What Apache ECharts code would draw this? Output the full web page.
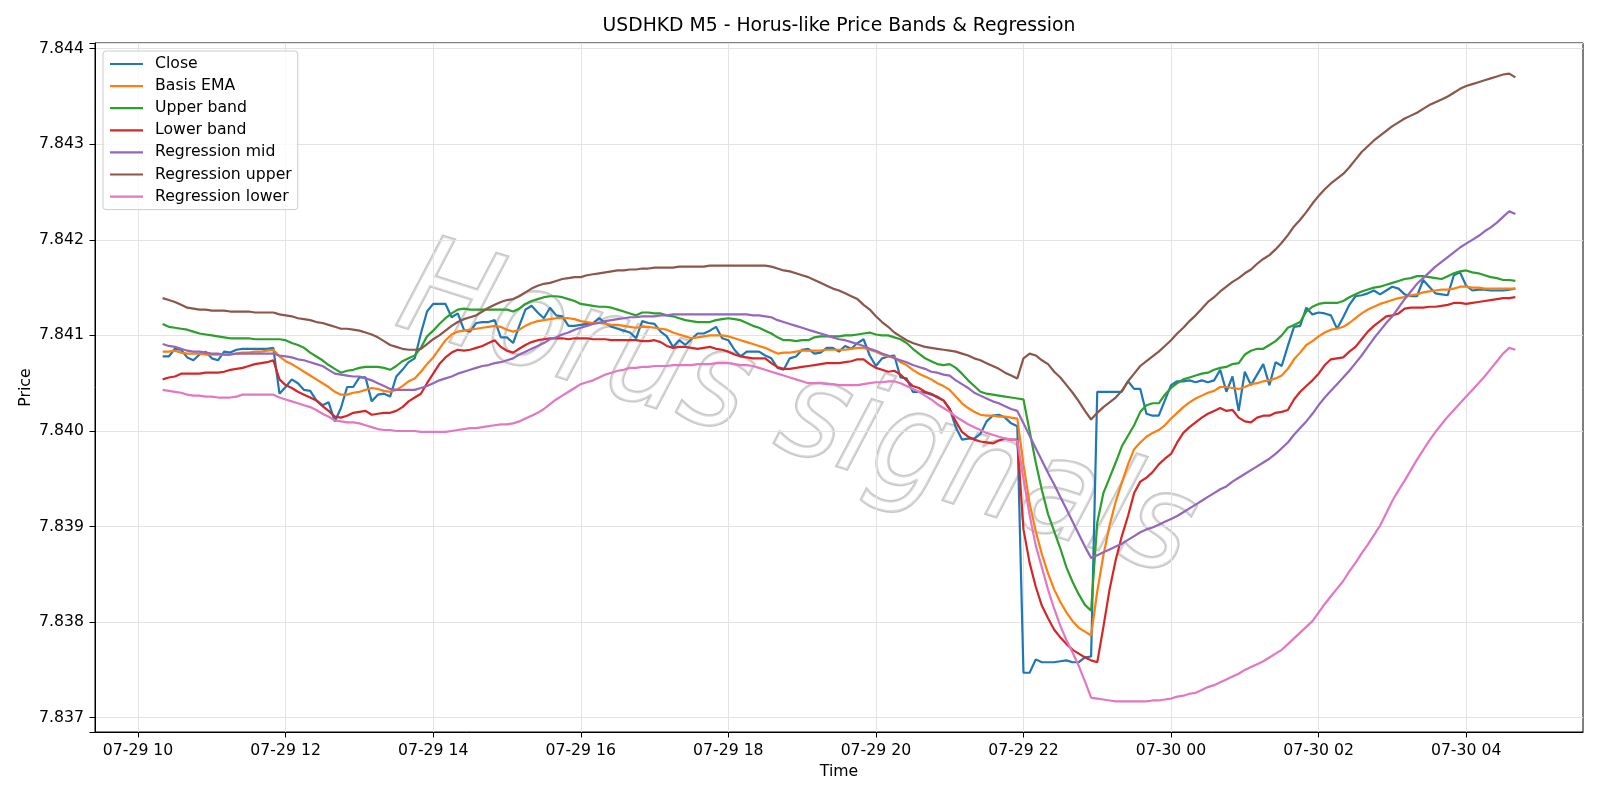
<!DOCTYPE html>
<html><head><meta charset="utf-8">
<script src="https://cdn.jsdelivr.net/npm/echarts@6/dist/echarts.min.js"></script>
<style>html,body{margin:0;padding:0;background:#fff}#c{width:1600px;height:800px}</style>
</head><body><div id="c"></div>
<script>
// ---- data (USDHKD M5, 07-29 10:20 .. 07-30 04:40, one value per 5-minute bar) ----
const xTickLabels = ['07-29 10','07-29 12','07-29 14','07-29 16','07-29 18','07-29 20','07-29 22','07-30 00','07-30 02','07-30 04'];
const yTickLabels = ['7.837','7.838','7.839','7.840','7.841','7.842','7.843','7.844'];

const close = [
7.84078,7.84078,7.84086,7.84085,7.84077,7.84074,7.8408,7.84083,7.84076,7.84074,
7.84083,7.84082,7.84085,7.84086,7.84086,7.84086,7.84086,7.84086,7.84087,7.84039,
7.84046,7.84054,7.8405,7.84043,7.84042,7.84032,7.84027,7.8403,7.8401,7.84024,
7.84046,7.84046,7.84056,7.84056,7.84031,7.84038,7.84039,7.84036,7.84057,7.84064,
7.84072,7.84076,7.84102,7.84125,7.84133,7.84133,7.84133,7.84119,7.84123,7.84106,
7.84104,7.84113,7.84114,7.84114,7.84116,7.84098,7.84098,7.84092,7.8411,7.84127,
7.84131,7.84124,7.84118,7.84129,7.84121,7.8412,7.8411,7.8411,7.84111,7.84112,
7.84113,7.84118,7.84113,7.84109,7.84107,7.84105,7.84103,7.84097,7.84115,7.84113,
7.84112,7.84104,7.84099,7.84088,7.84095,7.8409,7.84096,7.84102,7.84102,7.84105,
7.84109,7.84097,7.84095,7.84085,7.84078,7.84083,7.84083,7.84083,7.84079,7.84076,
7.84066,7.84064,7.84076,7.84078,7.84085,7.84086,7.84081,7.84082,7.84087,7.84087,
7.84083,7.84089,7.84086,7.84092,7.84096,7.84079,7.84068,7.84076,7.84078,7.84079,
7.84056,7.84055,7.84041,7.84041,7.8404,7.84038,7.84036,7.84032,7.84023,7.84004,
7.83991,7.83992,7.83992,7.83997,7.8401,7.84016,7.84017,7.84014,7.84008,7.84005,
7.83747,7.83747,7.83761,7.83758,7.83758,7.83758,7.83759,7.8376,7.83758,7.83758,
7.83763,7.83764,7.84041,7.84041,7.84041,7.84041,7.84041,7.84052,7.84044,7.84044,
7.84018,7.84016,7.84016,7.84032,7.84048,7.84052,7.84052,7.84053,7.84051,7.84053,
7.84051,7.84053,7.84064,7.84041,7.84057,7.84021,7.84062,7.84048,7.84059,7.8407,
7.84048,7.84072,7.84068,7.84089,7.84109,7.8411,7.84129,7.84122,7.84124,7.84123,
7.84121,7.84107,7.84119,7.84132,7.84141,7.84142,7.84144,7.84147,7.84143,7.84147,
7.84151,7.84149,7.84143,7.84141,7.84141,7.84158,7.84151,7.84144,7.84143,7.84142,
7.84163,7.84166,7.84152,7.84147,7.84148,7.84148,7.84147,7.84147,7.84147,7.84148,
7.84149];

const basisEma = [
7.84083,7.84083,7.84084,7.84082,7.84081,7.84081,7.84081,7.8408,7.8408,7.8408,
7.8408,7.8408,7.84081,7.84082,7.84082,7.84083,7.84083,7.84084,7.84085,7.84078,
7.84073,7.8407,7.84066,7.84062,7.84058,7.84054,7.8405,7.84046,7.84041,7.84038,
7.84038,7.8404,7.84041,7.84043,7.84045,7.84044,7.84042,7.84041,7.84043,7.84047,
7.84052,7.84055,7.84062,7.8407,7.84077,7.84086,7.84095,7.84101,7.84104,7.84105,
7.84106,7.84107,7.84108,7.84109,7.8411,7.84109,7.84106,7.84104,7.84106,7.8411,
7.84113,7.84115,7.84116,7.84117,7.84118,7.84118,7.84118,7.84117,7.84115,7.84114,
7.84113,7.84113,7.84112,7.84111,7.84111,7.8411,7.84109,7.84108,7.84109,7.84109,
7.84108,7.84107,7.84106,7.84103,7.84101,7.84099,7.84097,7.84098,7.84099,7.841,
7.841,7.841,7.84099,7.84097,7.84095,7.84093,7.84091,7.84089,7.84087,7.84084,
7.84081,7.84082,7.84082,7.84083,7.84084,7.84084,7.84084,7.84084,7.84085,7.84085,
7.84085,7.84085,7.84086,7.84087,7.84087,7.84085,7.84083,7.8408,7.84078,7.84077,
7.84072,7.84069,7.84064,7.8406,7.84057,7.84054,7.8405,7.84047,7.84043,7.84036,
7.84029,7.84024,7.8402,7.84017,7.84016,7.84016,7.84015,7.84015,7.84014,7.84013,
7.83965,7.83924,7.83895,7.83871,7.83851,7.83834,7.83821,7.8381,7.83801,7.83794,
7.8379,7.83786,7.83832,7.8387,7.83901,7.83926,7.83946,7.83965,7.83981,7.83988,
7.83994,7.83998,7.84001,7.84006,7.84013,7.84019,7.84025,7.8403,7.84034,7.84037,
7.8404,7.84042,7.84046,7.84046,7.84045,7.84044,7.84046,7.84049,7.8405,7.84052,
7.84053,7.84055,7.84058,7.84065,7.84075,7.84082,7.8409,7.84094,7.84099,7.84103,
7.84106,7.84107,7.84109,7.84113,7.84118,7.84123,7.84127,7.8413,7.84133,7.84135,
7.84137,7.84139,7.8414,7.84142,7.84143,7.84145,7.84146,7.84147,7.84148,7.84148,
7.84149,7.84151,7.84151,7.8415,7.8415,7.84149,7.84149,7.84149,7.84149,7.84149,
7.84149];

const upperBand = [
7.84112,7.84109,7.84108,7.84107,7.84106,7.84104,7.84102,7.84101,7.841,7.84099,
7.84098,7.84097,7.84097,7.84097,7.84097,7.84096,7.84096,7.84096,7.84096,7.84096,
7.84095,7.84092,7.8409,7.84087,7.84082,7.84078,7.84074,7.84069,7.84065,7.84061,
7.84063,7.84064,7.84066,7.84067,7.84067,7.84067,7.84066,7.84064,7.84068,7.84073,
7.84076,7.84079,7.84087,7.84099,7.84105,7.84112,7.84118,7.84123,7.84127,7.84128,
7.84127,7.84127,7.84127,7.84127,7.84127,7.84127,7.84127,7.84125,7.84128,7.84133,
7.84136,7.84138,7.8414,7.84141,7.84141,7.8414,7.84138,7.84136,7.84133,7.84132,
7.84131,7.8413,7.8413,7.84129,7.84127,7.84125,7.84123,7.84121,7.84124,7.84124,
7.84123,7.84123,7.84121,7.8412,7.84118,7.84116,7.84115,7.84114,7.84114,7.84114,
7.84116,7.84117,7.84118,7.84117,7.84116,7.84113,7.8411,7.84108,7.84105,7.84102,
7.84098,7.84095,7.84095,7.84094,7.84095,7.84095,7.84098,7.84099,7.84099,7.84099,
7.84099,7.841,7.841,7.84101,7.84102,7.84103,7.84101,7.841,7.841,7.84098,
7.84096,7.84092,7.84086,7.84081,7.84076,7.84073,7.8407,7.84069,7.8407,7.84066,
7.8406,7.84053,7.84047,7.84041,7.84039,7.84038,7.84037,7.84036,7.84035,7.84034,
7.84033,7.84,7.83967,7.83938,7.83913,7.83895,7.83877,7.83857,7.83842,7.83829,
7.83818,7.83812,7.83904,7.83935,7.83951,7.83967,7.83984,7.83995,7.84006,7.8402,
7.84027,7.84029,7.84029,7.84038,7.84045,7.8405,7.84054,7.84056,7.84058,7.8406,
7.84061,7.84064,7.84066,7.84067,7.8407,7.84071,7.8408,7.84084,7.84086,7.84086,
7.8409,7.84094,7.841,7.84108,7.84111,7.84114,7.84125,7.8413,7.84133,7.84134,
7.84134,7.84134,7.84136,7.8414,7.84143,7.84146,7.84148,7.8415,7.84151,7.84153,
7.84155,7.84157,7.84159,7.8416,7.84162,7.84162,7.84161,7.8416,7.84159,7.84162,
7.84165,7.84167,7.84168,7.84166,7.84165,7.84163,7.84161,7.8416,7.84158,7.84158,
7.84157];

const lowerBand = [
7.84054,7.84056,7.84057,7.8406,7.8406,7.8406,7.8406,7.84061,7.84061,7.84061,
7.84062,7.84064,7.84065,7.84066,7.84068,7.8407,7.84071,7.84072,7.84074,7.84054,
7.84048,7.84045,7.84041,7.84038,7.84035,7.84032,7.84026,7.84021,7.84015,7.84014,
7.84016,7.84019,7.8402,7.84021,7.84017,7.84018,7.84019,7.84019,7.84021,7.84025,
7.84031,7.84035,7.84039,7.8405,7.8406,7.8407,7.84077,7.84082,7.84085,7.84084,
7.84085,7.84087,7.84089,7.84092,7.84095,7.84088,7.84084,7.84082,7.84086,7.8409,
7.84093,7.84095,7.84096,7.84097,7.84097,7.84097,7.84096,7.84097,7.84097,7.84097,
7.84096,7.84096,7.84096,7.84095,7.84095,7.84095,7.84095,7.84095,7.84094,7.84094,
7.84095,7.84093,7.84089,7.84087,7.84088,7.84088,7.84087,7.84086,7.84087,7.84088,
7.84086,7.84085,7.84083,7.8408,7.84078,7.84077,7.84076,7.84076,7.84076,7.84071,
7.84067,7.84065,7.84065,7.84066,7.84067,7.84068,7.84069,7.8407,7.84071,7.84071,
7.84071,7.84072,7.84073,7.84075,7.84075,7.8407,7.84066,7.84064,7.84062,7.84063,
7.84059,7.84053,7.84047,7.84045,7.84041,7.84039,7.84035,7.84032,7.84023,7.8401,
7.83999,7.83994,7.83991,7.83989,7.83988,7.83987,7.8399,7.83992,7.83991,7.83991,
7.83897,7.83862,7.83837,7.83817,7.83804,7.83792,7.83784,7.83777,7.83771,7.83767,
7.83763,7.8376,7.83758,7.83795,7.83834,7.83865,7.8389,7.83911,7.83935,7.83947,
7.83951,7.83957,7.83965,7.83971,7.83976,7.83988,7.83998,7.84004,7.84009,7.84014,
7.84018,7.84021,7.84024,7.84021,7.84022,7.84014,7.8401,7.84009,7.84014,7.84016,
7.84016,7.84019,7.8402,7.84022,7.84033,7.84041,7.84047,7.84053,7.8406,7.84069,
7.84075,7.84076,7.84077,7.84083,7.84088,7.84096,7.84104,7.8411,7.84115,7.8412,
7.84121,7.84123,7.84128,7.84129,7.84129,7.84129,7.8413,7.8413,7.84131,7.84132,
7.84134,7.84134,7.84133,7.84134,7.84135,7.84136,7.84137,7.84138,7.84139,7.84139,
7.8414];

const regMid = [
7.84091,7.84089,7.84088,7.84086,7.84084,7.84083,7.84083,7.84082,7.84081,7.84081,
7.8408,7.8408,7.84081,7.84081,7.84081,7.84081,7.84081,7.84081,7.84081,7.84079,
7.84078,7.84077,7.84075,7.84074,7.84072,7.8407,7.84068,7.84064,7.8406,7.84059,
7.84058,7.84057,7.84057,7.84055,7.84053,7.8405,7.84047,7.84044,7.84043,7.84043,
7.84043,7.84043,7.84045,7.84047,7.8405,7.84053,7.84055,7.84057,7.8406,7.84062,
7.84064,7.84066,7.84068,7.84069,7.84071,7.84072,7.84074,7.84076,7.8408,7.84083,
7.84086,7.84089,7.84092,7.84096,7.84098,7.84101,7.84103,7.84106,7.84108,7.8411,
7.84112,7.84113,7.84115,7.84116,7.84117,7.84118,7.84119,7.84119,7.8412,7.8412,
7.8412,7.84121,7.84121,7.84122,7.84122,7.84122,7.84122,7.84122,7.84122,7.84122,
7.84122,7.84122,7.84122,7.84122,7.84122,7.84122,7.84121,7.84121,7.8412,7.84119,
7.84116,7.84114,7.84112,7.8411,7.84108,7.84106,7.84104,7.84102,7.841,7.84098,
7.84096,7.84095,7.84093,7.84091,7.84089,7.84086,7.84084,7.84081,7.84079,7.84076,
7.84074,7.84072,7.84069,7.84067,7.84065,7.84062,7.84061,7.84059,7.84058,7.84053,
7.84049,7.84045,7.8404,7.84037,7.84034,7.84031,7.84029,7.84026,7.84023,7.84021,
7.84008,7.83995,7.83982,7.83969,7.83956,7.83944,7.83931,7.83918,7.83905,7.83892,
7.83879,7.83867,7.8387,7.83873,7.83876,7.83879,7.83882,7.83886,7.8389,7.83894,
7.83897,7.83899,7.83902,7.83905,7.83908,7.83911,7.83915,7.83919,7.83923,7.83927,
7.83931,7.83935,7.83939,7.83942,7.83947,7.83951,7.83955,7.83959,7.83963,7.83967,
7.83971,7.83976,7.83982,7.83988,7.83996,7.84003,7.8401,7.84018,7.84027,7.84035,
7.84042,7.84049,7.84056,7.84063,7.84071,7.84079,7.84088,7.84097,7.84105,7.84113,
7.8412,7.84129,7.84138,7.84146,7.84154,7.8416,7.84166,7.84172,7.84177,7.84182,
7.84187,7.84192,7.84196,7.842,7.84204,7.84209,7.84213,7.84218,7.84224,7.8423,
7.84227];

const regUpper = [
7.84139,7.84137,7.84135,7.84132,7.84129,7.84128,7.84127,7.84127,7.84126,7.84126,
7.84126,7.84125,7.84125,7.84125,7.84125,7.84124,7.84124,7.84124,7.84124,7.84122,
7.84121,7.8412,7.84118,7.84117,7.84116,7.84114,7.84113,7.84111,7.84109,7.84107,
7.84107,7.84106,7.84105,7.84103,7.84101,7.84098,7.84094,7.8409,7.84088,7.84086,
7.84085,7.84085,7.84086,7.84091,7.84096,7.841,7.84105,7.8411,7.84114,7.84117,
7.84119,7.84121,7.84125,7.84129,7.84132,7.84135,7.84137,7.84138,7.84141,7.84145,
7.84149,7.84152,7.84154,7.84155,7.84157,7.84159,7.8416,7.84161,7.84161,7.84163,
7.84164,7.84165,7.84166,7.84167,7.84168,7.84168,7.84169,7.84169,7.8417,7.8417,
7.84171,7.84171,7.84171,7.84171,7.84172,7.84172,7.84172,7.84172,7.84172,7.84173,
7.84173,7.84173,7.84173,7.84173,7.84173,7.84173,7.84173,7.84173,7.84173,7.84172,
7.8417,7.84168,7.84167,7.84165,7.84163,7.84161,7.84158,7.84155,7.84152,7.84149,
7.84147,7.84144,7.84141,7.84138,7.84132,7.84127,7.8412,7.84114,7.84109,7.84103,
7.84099,7.84095,7.84092,7.8409,7.84088,7.84087,7.84086,7.84085,7.84084,7.84083,
7.84081,7.84079,7.84076,7.84074,7.84071,7.84068,7.84065,7.84061,7.84058,7.84055,
7.84076,7.84081,7.84079,7.84074,7.8407,7.84062,7.84056,7.84048,7.8404,7.84031,
7.84021,7.84012,7.84019,7.84025,7.8403,7.84035,7.84042,7.84052,7.8406,7.84068,
7.84073,7.84078,7.84083,7.84089,7.84095,7.84102,7.84108,7.84115,7.84121,7.84128,
7.84135,7.8414,7.84146,7.84151,7.84156,7.8416,7.84165,7.84169,7.84175,7.8418,
7.84184,7.8419,7.84197,7.84205,7.84214,7.84221,7.84229,7.84238,7.84246,7.84253,
7.84259,7.84264,7.84269,7.84276,7.84284,7.84292,7.84298,7.84304,7.84309,7.84314,
7.84319,7.84323,7.84327,7.8433,7.84333,7.84337,7.84341,7.84344,7.84347,7.8435,
7.84354,7.84358,7.84361,7.84363,7.84365,7.84367,7.84369,7.84371,7.84373,7.84374,
7.8437];

const regLower = [
7.84043,7.84042,7.84041,7.8404,7.84038,7.84037,7.84037,7.84036,7.84036,7.84035,
7.84035,7.84035,7.84036,7.84038,7.84038,7.84038,7.84038,7.84038,7.84038,7.84035,
7.84033,7.84031,7.84029,7.84027,7.84025,7.84022,7.84018,7.84015,7.84011,7.8401,
7.84009,7.84009,7.84008,7.84006,7.84004,7.84002,7.84001,7.84001,7.84,7.84,
7.84,7.84,7.83999,7.83999,7.83999,7.83999,7.83999,7.84,7.84001,7.84002,
7.84003,7.84003,7.84004,7.84005,7.84006,7.84007,7.84007,7.84008,7.8401,7.84013,
7.84016,7.84019,7.84023,7.84028,7.84033,7.84037,7.84041,7.84045,7.84049,7.84051,
7.84053,7.84056,7.84059,7.84061,7.84063,7.84064,7.84066,7.84066,7.84067,7.84067,
7.84068,7.84068,7.84068,7.84069,7.84069,7.84069,7.84069,7.8407,7.8407,7.8407,
7.84071,7.84071,7.84071,7.8407,7.84069,7.84069,7.84068,7.84066,7.84064,7.84062,
7.8406,7.84058,7.84056,7.84054,7.84052,7.8405,7.8405,7.8405,7.84049,7.84049,
7.84048,7.84048,7.84048,7.84048,7.84049,7.8405,7.84051,7.84051,7.84052,7.84052,
7.8405,7.84047,7.84044,7.84041,7.84037,7.84033,7.84028,7.84024,7.8402,7.84015,
7.84011,7.84007,7.84004,7.84001,7.83998,7.83996,7.83994,7.83992,7.83991,7.8399,
7.8395,7.83912,7.8388,7.83857,7.83834,7.83814,7.83796,7.83781,7.83768,7.83754,
7.83738,7.83721,7.8372,7.83719,7.83718,7.83717,7.83717,7.83717,7.83717,7.83717,
7.83717,7.83718,7.83718,7.83719,7.8372,7.83722,7.83723,7.83725,7.83726,7.83729,
7.83732,7.83734,7.83737,7.8374,7.83743,7.83746,7.8375,7.83753,7.83756,7.83759,
7.83763,7.83767,7.83771,7.83777,7.83783,7.83789,7.83795,7.83801,7.8381,7.83819,
7.83827,7.83835,7.83843,7.83853,7.83862,7.83872,7.83881,7.83891,7.83901,7.83914,
7.83927,7.83938,7.83948,7.83959,7.8397,7.8398,7.8399,7.83999,7.84007,7.84015,
7.84022,7.84029,7.84036,7.84043,7.8405,7.84057,7.84065,7.84073,7.84081,7.84087,
7.84085];

// ---- category axis: 5-minute slots, with 11 empty slots of margin on each side ----
const PAD = 11;
const categories = [];
(function () {
  let day = 29, h = 9, m = 25;
  for (let k = 0; k < close.length + 2 * PAD; k++) {
    categories.push('07-' + day + ' ' + String(h).padStart(2, '0') + ':' + String(m).padStart(2, '0'));
    m += 5; if (m === 60) { m = 0; h++; if (h === 24) { h = 0; day++; } }
  }
})();
const padded = arr => Array(PAD).fill(null).concat(arr, Array(PAD).fill(null));
const isTick = (idx, val) => val.endsWith(':00') && xTickLabels.indexOf(val.slice(0, 8)) >= 0;

const FONT = '"DejaVu Sans", Verdana, sans-serif';
const seriesDefs = [
  ['Close', close, '#1f77b4'],
  ['Basis EMA', basisEma, '#ff7f0e'],
  ['Upper band', upperBand, '#2ca02c'],
  ['Lower band', lowerBand, '#d62728'],
  ['Regression mid', regMid, '#9467bd'],
  ['Regression upper', regUpper, '#8c564b'],
  ['Regression lower', regLower, '#e377c2']
];

const chart = echarts.init(document.getElementById('c'), null, {renderer: 'canvas'});
chart.setOption({
  animation: false,
  backgroundColor: '#ffffff',
  textStyle: {fontFamily: FONT},
  grid: {left: 95, right: 17, top: 43, bottom: 68, show: true, borderColor: '#000', borderWidth: 1, backgroundColor: 'transparent'},
  graphic: [
    {type: 'text', x: 796, y: 416, rotation: -0.31, z: 0, silent: true,
     style: {text: 'Horus signals', font: 'italic 136px "Liberation Sans Narrow", "DejaVu Sans Condensed", sans-serif',
             fill: 'rgba(255,255,255,0.35)', stroke: 'rgba(160,160,160,0.6)', lineWidth: 2.6,
             shadowColor: 'rgba(0,0,0,0.25)', shadowOffsetX: 4, shadowOffsetY: 4, shadowBlur: 2,
             align: 'center', verticalAlign: 'middle'}},
    {type: 'text', x: 839, y: 26, z: 10, silent: true,
     style: {text: 'USDHKD M5 - Horus-like Price Bands & Regression', font: '18.8px ' + FONT, fill: '#000',
             align: 'center', verticalAlign: 'middle'}}
  ],
  legend: {
    orient: 'vertical', left: 103, top: 51,
    itemWidth: 33, itemHeight: 16, itemGap: 6.1,
    icon: 'path://M0,0 L33,0 L33,2.2 L0,2.2 Z',
    padding: [5, 6, 5, 7],
    borderColor: '#cccccc', borderWidth: 1, borderRadius: 3,
    backgroundColor: 'rgba(255,255,255,0.8)',
    textStyle: {fontSize: 15.7, color: '#000', fontFamily: FONT, padding: [0, 0, 0, 7]},
    data: seriesDefs.map(d => d[0])
  },
  xAxis: {
    type: 'category', data: categories, boundaryGap: false,
    name: 'Time', nameLocation: 'middle', nameGap: 32, nameMoveOverlap: false,
    nameTextStyle: {fontSize: 15.7, color: '#000', fontFamily: FONT},
    axisLine: {show: true, lineStyle: {color: '#000', width: 1}},
    axisTick: {show: true, interval: isTick, length: 5.5, lineStyle: {color: '#000', width: 1}},
    axisLabel: {show: true, interval: isTick, formatter: v => v.slice(0, 8), fontSize: 15.7, color: '#000', margin: 11, fontFamily: FONT},
    splitLine: {show: true, interval: isTick, lineStyle: {color: '#e3e3e3', width: 1}}
  },
  yAxis: {
    type: 'value', min: 7.83685, max: 7.84406, splitNumber: 7, scale: true,
    name: 'Price', nameLocation: 'middle', nameGap: 61, nameRotate: 90, nameMoveOverlap: false,
    nameTextStyle: {fontSize: 15.7, color: '#000', fontFamily: FONT},
    axisLine: {show: true, lineStyle: {color: '#000', width: 1}},
    axisTick: {show: true, length: 5.5, lineStyle: {color: '#000', width: 1}},
    axisLabel: {fontSize: 15.7, color: '#000', margin: 11, fontFamily: FONT,
      formatter: v => { const s = v.toFixed(3); return (Math.abs(v * 1000 - Math.round(v * 1000)) < 1e-6 && yTickLabels.indexOf(s) >= 0) ? s : ''; }},
    splitLine: {show: true, lineStyle: {color: '#e3e3e3', width: 1}}
  },
  series: seriesDefs.map(([name, vals, color]) => ({
    name, type: 'line', data: padded(vals), symbol: 'none', showSymbol: false, z: 2,
    lineStyle: {color, width: 2.2}, itemStyle: {color}, emphasis: {disabled: true}
  }))
});
</script>
</body></html>
